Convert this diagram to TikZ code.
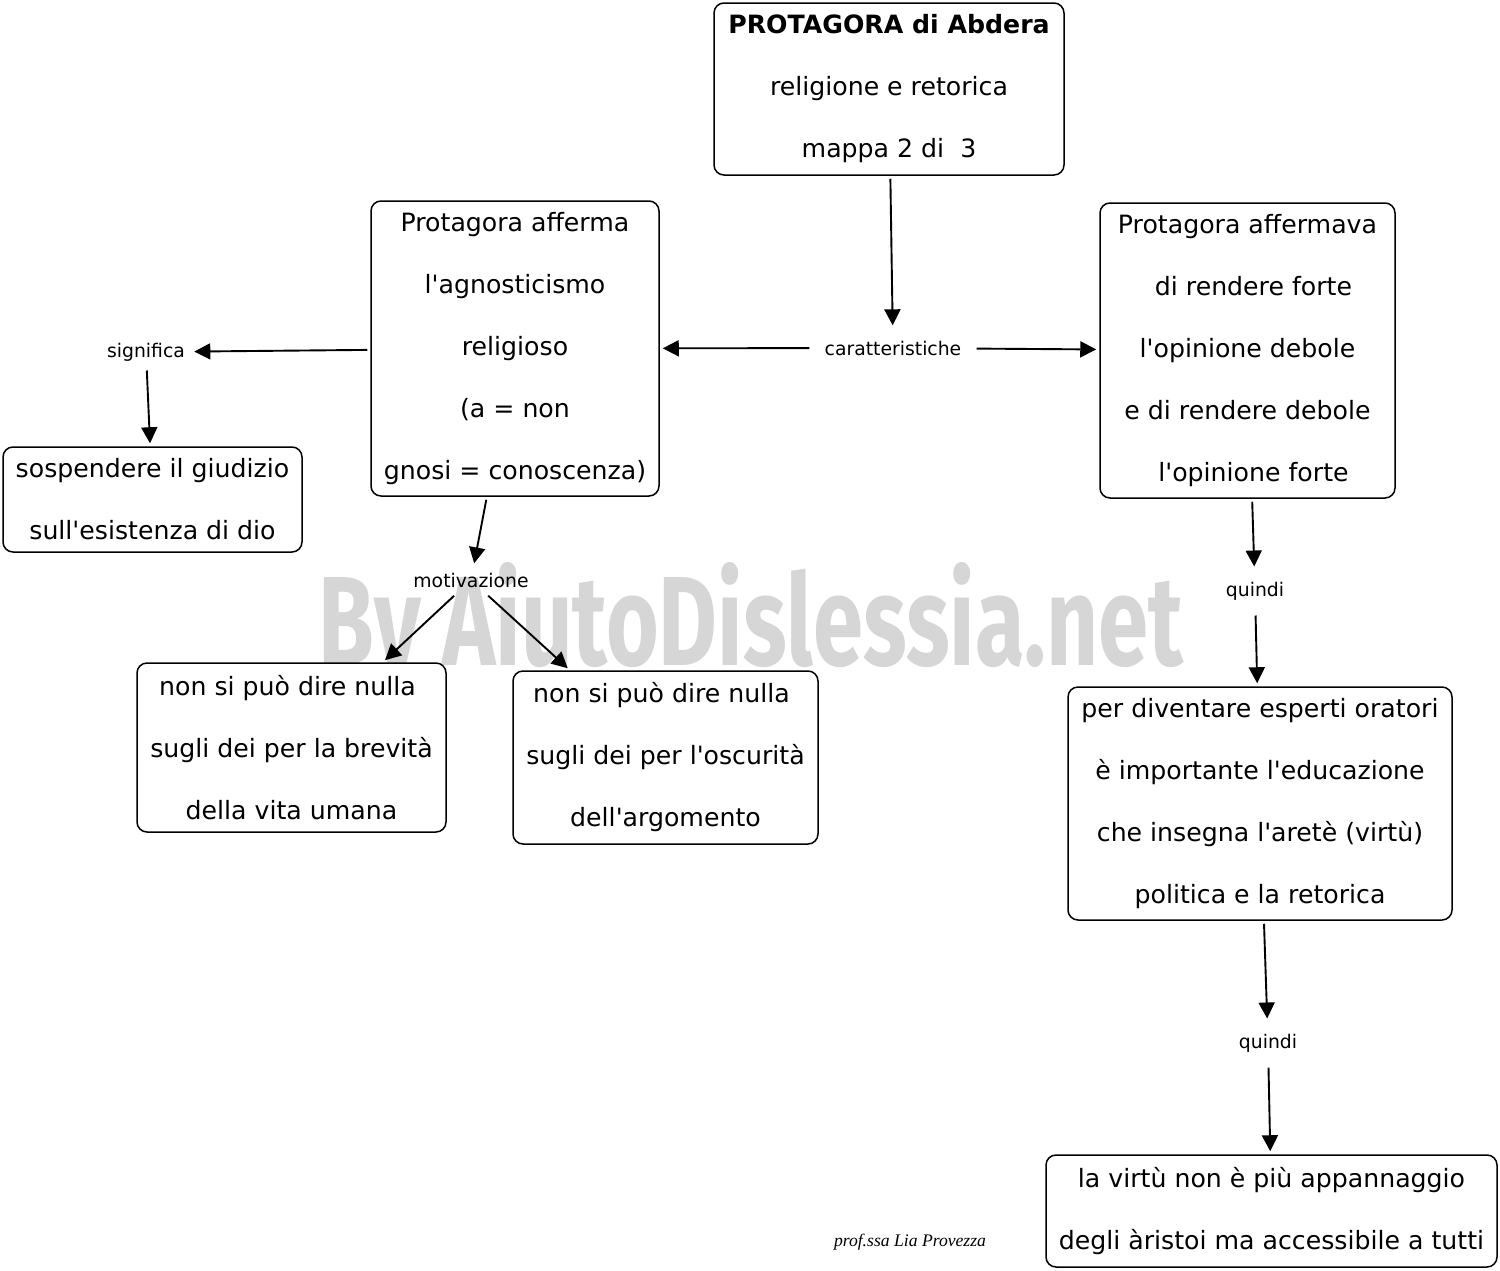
\documentclass[tikz,border=0pt]{standalone}
\usepackage{fontspec}
\setmainfont{DejaVu Sans}
\newfontfamily\wmfont{Fira Sans}
\newfontfamily\sigfont{Liberation Serif}
\usetikzlibrary{arrows.meta}
\newcommand\ap{\textquotesingle}
\definecolor{wmgray}{RGB}{214,214,214}
\begin{document}
\begin{tikzpicture}[x=0.5pt,y=-0.5pt,
  box/.style={draw, line width=0.75pt, rounded corners=5pt, fill=white, align=center, inner sep=0pt, font=\fontsize{12.6pt}{31pt}\selectfont},
  lab/.style={inner sep=3pt, font=\fontsize{9.4pt}{11pt}\selectfont},
  arr/.style={line width=0.95pt, -{Triangle[length=8pt,width=8pt]}, shorten >=1.5pt, shorten <=1.5pt}]
\useasboundingbox (0,0) rectangle (1500,1270);
\fill[white] (0,0) rectangle (1500,1270);
% watermark
\node[anchor=base west, inner sep=0pt, text=wmgray] (wm) at (318,665) {\resizebox{432.5pt}{51.5pt}{\wmfont\bfseries By AiutoDislessia.net}};
% boxes
\node[box, minimum width=175pt, minimum height=86pt] (top) at (889,89) {\textbf{PROTAGORA di Abdera}\\religione e retorica\\mappa 2 di~~3};
\node[box, minimum width=144pt, minimum height=147.5pt] (aff) at (515,348.5) {Protagora afferma\\l\ap agnosticismo\\religioso\\(a = non\\gnosi = conoscenza)};
\node[box, minimum width=147.5pt, minimum height=147.5pt] (affv) at (1247.5,350.5) {Protagora affermava\\\hspace*{6pt}di rendere forte\\l\ap opinione debole\\e di rendere debole\\\hspace*{6pt}l\ap opinione forte};
\node[box, minimum width=149.5pt, minimum height=52.5pt] (sosp) at (152.5,499.5) {sospendere il giudizio\\sull\ap esistenza di dio};
\node[box, minimum width=154.5pt, minimum height=84.5pt] (brev) at (291.5,747.5) {non si può dire nulla\hspace*{4pt}\\sugli dei per la brevità\\della vita umana};
\node[box, minimum width=152.5pt, minimum height=86.5pt] (osc) at (665.5,757.5) {non si può dire nulla\hspace*{4pt}\\sugli dei per l\ap oscurità\\dell\ap argomento};
\node[box, minimum width=192pt, minimum height=116.5pt] (ora) at (1260,803.5) {per diventare esperti oratori\\è importante l\ap educazione\\che insegna l\ap aretè (virtù)\\politica e la retorica};
\node[box, minimum width=225.5pt, minimum height=56pt] (virt) at (1271.5,1211) {la virtù non è più appannaggio\\degli àristoi ma accessibile a tutti};
% labels
\node[lab, inner xsep=6pt, inner ysep=6pt] (car) at (893,348) {caratteristiche};
\node[lab] (sig) at (146,352) {significa};
\node[lab] (mot) at (471,580) {motivazione};
\node[lab, inner sep=6pt] (q1) at (1255,591) {quindi};
\node[lab, inner sep=6pt] (q2) at (1268,1043) {quindi};
% connectors
\draw[arr] (top) -- (car);
\draw[arr] (car) -- (aff);
\draw[arr] (car) -- (affv);
\draw[arr] (aff) -- (sig);
\draw[arr] (sig) -- (sosp);
\draw[arr] (aff) -- (mot);
\draw[arr] (mot) -- (brev);
\draw[arr] (mot) -- (osc);
\draw[arr] (affv) -- (q1);
\draw[arr] (q1) -- (ora);
\draw[arr] (ora) -- (q2);
\draw[arr] (q2) -- (virt);
% signature
\node (sign) at (910,1242) {\resizebox{76pt}{!}{\sigfont\itshape prof.ssa Lia Provezza}};
\end{tikzpicture}
\end{document}
